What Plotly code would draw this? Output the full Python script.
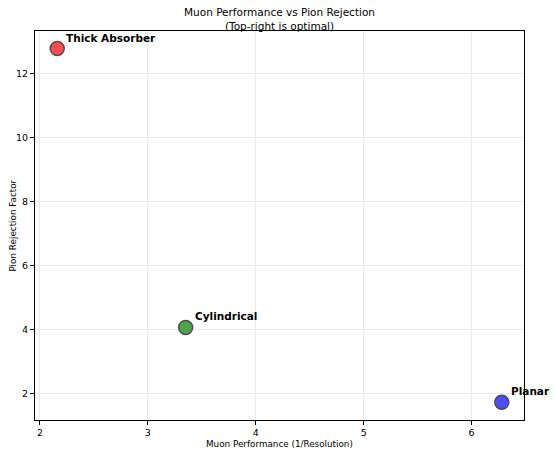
import plotly.graph_objects as go

# Data
designs = ['Thick Absorber', 'Cylindrical', 'Planar']
muon_performance = [2.16, 3.35, 6.28]
pion_rejection = [12.78, 4.06, 1.72]
colors = ['#ff4d4d', '#4da64d', '#4d4dff']

FONT = 'DejaVu Sans'

fig = go.Figure()

fig.add_trace(go.Scatter(
    x=muon_performance,
    y=pion_rejection,
    mode='markers',
    marker=dict(size=14, color=colors, line=dict(color='#4d4d4d', width=1.5)),
    showlegend=False,
    hoverinfo='skip'
))

# Bold labels offset up-right of each point
for name, x, y in zip(designs, muon_performance, pion_rejection):
    fig.add_annotation(
        x=x, y=y, text=f'<b>{name}</b>', showarrow=False,
        xanchor='left', yanchor='bottom', xshift=7, yshift=3,
        font=dict(family=FONT, size=10.5, color='black')
    )

# Two-line title above the plot area
fig.add_annotation(
    x=0.5, y=1, xref='paper', yref='paper', yshift=-3,
    xanchor='center', yanchor='bottom', showarrow=False,
    text='Muon Performance vs Pion Rejection<br>(Top-right is optimal)',
    font=dict(family=FONT, size=10.5, color='black')
)

# Axis titles
fig.add_annotation(
    x=0.5, y=0, xref='paper', yref='paper', yshift=-24,
    xanchor='center', yanchor='middle', showarrow=False,
    text='Muon Performance (1/Resolution)',
    font=dict(family=FONT, size=8.8, color='black')
)
fig.add_annotation(
    x=0, y=0.5, xref='paper', yref='paper', xshift=-23,
    xanchor='center', yanchor='middle', showarrow=False, textangle=-90,
    text='Pion Rejection Factor',
    font=dict(family=FONT, size=8.8, color='black')
)

axis_style = dict(
    showline=True, linecolor='black', linewidth=1, mirror=True,
    ticks='outside', ticklen=4, tickcolor='black', tickwidth=1,
    showgrid=True, gridcolor='#ebebeb', gridwidth=1,
    zeroline=False, automargin=False,
    tickfont=dict(family=FONT, size=9.5, color='black'),
)

fig.update_layout(
    width=555, height=453,
    margin=dict(l=35, r=31, t=31, b=33),
    plot_bgcolor='white', paper_bgcolor='white',
    xaxis=dict(axis_style, range=[1.954, 6.486], dtick=1),
    yaxis=dict(axis_style, range=[1.167, 13.33], dtick=2),
)

# drop the default page margin so the figure sits at the window's top-left
fig.write_html("out.html", config={'displayModeBar': False},
               post_script="document.body.style.margin='0';")
